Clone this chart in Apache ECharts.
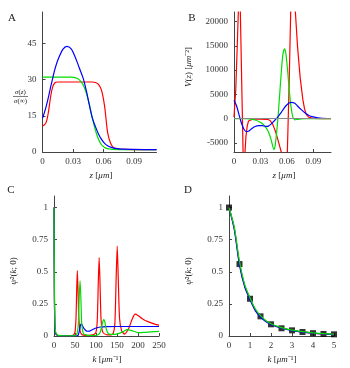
<!DOCTYPE html>
<html>
<head>
<meta charset="utf-8">
<script src="https://cdn.jsdelivr.net/npm/echarts@6/dist/echarts.min.js"></script>
<style>
  html, body { margin: 0; padding: 0; background: #fff; }
  #chart { width: 350px; height: 368px; }
</style>
</head>
<body>
<div id="chart"></div>
<script>
// panel A: sigma(z)/sigma(inf)
const zA = [0, 0.002, 0.004, 0.006, 0.008, 0.01, 0.012, 0.015, 0.02, 0.024, 0.028, 0.032, 0.036, 0.04, 0.043, 0.046, 0.049, 0.052, 0.055, 0.058, 0.061, 0.064, 0.067, 0.07, 0.075, 0.08, 0.09, 0.1, 0.112];
const aBlue = [14, 16.5, 19.5, 23, 27, 30.5, 34, 38, 42.5, 43.8, 42.8, 39.5, 35, 30.5, 25.5, 19.5, 14, 10.5, 7.5, 5.2, 3.6, 2.6, 2.0, 1.6, 1.3, 1.15, 1.05, 1.0, 1.0];
const aGreen = [31, 31, 31, 31, 31, 31, 31, 31, 31, 31, 31, 30.8, 30.0, 27.8, 24.5, 19.8, 14, 9, 5.3, 3.0, 1.9, 1.4, 1.2, 1.05, 1, 1, 1, 1, 1];
const aRed = [10.8, 11.2, 12.8, 17, 23, 27, 28.6, 29, 29, 29, 29, 29, 29, 29, 29, 29, 29, 28.8, 28, 25.5, 19, 8, 3.5, 1.8, 1.2, 1.05, 1, 1, 1];

// panel B: V(z)
const zBRed = [0, 0.002, 0.0035, 0.0049, 0.006, 0.0072, 0.0088, 0.0103, 0.0112, 0.0118, 0.0125, 0.0135, 0.015, 0.0165, 0.018, 0.022, 0.03, 0.038, 0.041, 0.044, 0.047, 0.05, 0.0536, 0.057, 0.0605, 0.0625, 0.0643, 0.067, 0.0696, 0.072, 0.075, 0.078, 0.08, 0.082, 0.085, 0.09, 0.1, 0.11];
const bRed = [300, 6000, 14000, 22000, 34000, 22000, 7000, -6900, -14000, -14000, -6900, -3800, -1500, -500, -200, -100, -100, -150, -400, -1200, -2600, -4500, -6900, -15000, -6900, 7000, 22000, 40000, 22000, 15000, 8500, 4000, 2000, 800, 250, 50, 0, 0];
const zB = [0, 0.003, 0.006, 0.008, 0.011, 0.014, 0.017, 0.02, 0.024, 0.028, 0.032, 0.036, 0.039, 0.042, 0.0452, 0.0465, 0.048, 0.0498, 0.052, 0.054, 0.0555, 0.0574, 0.059, 0.061, 0.063, 0.065, 0.0669, 0.069, 0.072, 0.076, 0.08, 0.085, 0.09, 0.095, 0.1, 0.11];
const bGreen = [0, 0, 0, 0, -10, -30, -60, -120, -300, -600, -1000, -1800, -2700, -4300, -6400, -5800, -3500, 0, 5500, 10500, 13300, 14400, 13200, 9500, 5200, 2000, 200, -250, -150, -50, 0, 0, 0, 0, 0, 0];
const bBlue = [3800, 2600, 600, -700, -2100, -2700, -2550, -2100, -1650, -1450, -1450, -1600, -1550, -1150, -550, -300, 0, 350, 900, 1400, 1800, 2300, 2650, 3000, 3250, 3350, 3300, 3150, 2600, 1900, 1250, 650, 350, 160, 70, 20];

// panel C: psi^2(k;0), wide k range
const kCRed = [0, 1, 2, 3, 5, 10, 20, 30, 40, 46, 50, 52.5, 54, 55.5, 57, 59, 62, 66, 75, 85, 95, 100, 103, 105.5, 107.5, 109.5, 112, 116, 125, 135, 141, 145, 148, 150.5, 153, 156, 161, 168, 178, 186, 193, 200, 210, 225, 240, 250];
const cRed = [1, 0.3, 0.09, 0.04, 0.015, 0.004, 0.001, 0.001, 0.002, 0.006, 0.03, 0.15, 0.35, 0.51, 0.38, 0.15, 0.04, 0.012, 0.005, 0.006, 0.012, 0.03, 0.12, 0.42, 0.61, 0.42, 0.13, 0.03, 0.01, 0.008, 0.02, 0.1, 0.45, 0.70, 0.45, 0.14, 0.04, 0.015, 0.06, 0.13, 0.17, 0.16, 0.135, 0.11, 0.093, 0.085];
const kCGreen = [0, 1, 2, 3, 5, 10, 20, 40, 50, 55, 58, 60, 62, 64, 66, 70, 80, 95, 105, 110, 114, 117, 119, 121, 124, 128, 135, 145, 155, 165, 174, 185, 200, 215, 230, 250];
const cGreen = [1, 0.35, 0.12, 0.05, 0.02, 0.005, 0.001, 0.001, 0.003, 0.02, 0.1, 0.3, 0.43, 0.3, 0.1, 0.02, 0.005, 0.004, 0.01, 0.03, 0.08, 0.12, 0.127, 0.11, 0.06, 0.025, 0.012, 0.012, 0.02, 0.035, 0.05, 0.042, 0.026, 0.028, 0.032, 0.036];
const kCBlue = [0, 1, 2, 3, 5, 10, 20, 40, 55, 58, 61, 63, 65, 67, 70, 75, 80, 85, 92, 100, 110, 125, 150, 200, 250];
const cBlue = [1, 0.28, 0.08, 0.035, 0.012, 0.003, 0.001, 0.001, 0.002, 0.01, 0.05, 0.085, 0.095, 0.085, 0.065, 0.045, 0.037, 0.038, 0.05, 0.062, 0.07, 0.073, 0.074, 0.074, 0.074];

// panel D: psi^2(k;0), small k
const kD = [0, 0.25, 0.5, 0.75, 1, 1.25, 1.5, 1.75, 2, 2.5, 3, 3.5, 4, 4.5, 5];
const dRed = [1, 0.84, 0.565, 0.39, 0.29, 0.205, 0.153, 0.117, 0.092, 0.062, 0.044, 0.032, 0.023, 0.017, 0.013];
const dGreen = [1, 0.85, 0.58, 0.4, 0.298, 0.212, 0.158, 0.121, 0.095, 0.065, 0.046, 0.034, 0.025, 0.018, 0.014];
const dBlue = [1, 0.83, 0.55, 0.38, 0.282, 0.198, 0.148, 0.113, 0.089, 0.06, 0.042, 0.03, 0.022, 0.016, 0.012];
const kSq = [0, 0.5, 1, 1.5, 2, 2.5, 3, 3.5, 4, 4.5, 5];
const dSq = [1, 0.56, 0.29, 0.153, 0.091, 0.06, 0.044, 0.031, 0.022, 0.016, 0.013];

// tick labels
const ticksZ = [0, 0.03, 0.06, 0.09];
const ticksA = [0, 15, 30, 45];
const ticksB = [-5000, 0, 5000, 10000, 15000, 20000];
const ticksKC = [0, 50, 100, 150, 200, 250];
const ticksKD = [0, 1, 2, 3, 4, 5];
const ticksPsi = [0, 0.25, 0.5, 0.75, 1];

const FONT = 'Liberation Serif';
const RED = '#ff0000', GREEN = '#00dd00', BLUE = '#0000ff';

const pairs = (xs, ys) => xs.map((x, i) => [x, ys[i]]);

const axis = (gridIndex, min, max, ticks, isX) => ({
  type: 'value',
  gridIndex: gridIndex,
  min: min,
  max: max,
  splitLine: { show: false },
  axisLine: { show: true, onZero: false, lineStyle: { color: '#444', width: 1 } },
  axisTick: { show: true, inside: true, length: 3, customValues: ticks, lineStyle: { color: '#444' } },
  axisLabel: {
    customValues: ticks,
    formatter: (v) => String(v),
    fontFamily: FONT, fontSize: 9, color: '#333',
    margin: isX ? 5 : 6
  }
});

const line = (name, xi, yi, data, color, smooth) => ({
  name: name,
  type: 'line',
  xAxisIndex: xi,
  yAxisIndex: yi,
  data: data,
  showSymbol: false,
  smooth: smooth,
  clip: true,
  lineStyle: { color: color, width: 1.2 },
  itemStyle: { color: color },
  silent: true
});

const txt = (x, y, text, size, rotate) => ({
  type: 'text',
  x: x, y: y,
  rotation: rotate ? Math.PI / 2 : 0,
  style: {
    text: text,
    fontFamily: FONT, fontSize: size, fill: '#222',
    align: 'center', verticalAlign: 'middle',
    rich: { i: { fontStyle: 'italic', fontFamily: FONT, fontSize: size, fill: '#222' } }
  }
});

const chart = echarts.init(document.getElementById('chart'), null, { renderer: 'canvas' });

const option = {
  animation: false,
  backgroundColor: '#fff',
  grid: [
    { left: 42.5, top: 12, width: 114, height: 140, outerBoundsMode: 'none' },
    { left: 234, top: 12, width: 97, height: 140, outerBoundsMode: 'none' },
    { left: 54, top: 196, width: 105, height: 140, outerBoundsMode: 'none' },
    { left: 229, top: 196, width: 105, height: 140, outerBoundsMode: 'none' }
  ],
  xAxis: [
    axis(0, 0, 0.112, ticksZ, true),
    axis(1, 0, 0.11, ticksZ, true),
    axis(2, 0, 250, ticksKC, true),
    axis(3, 0, 5, ticksKD, true)
  ],
  yAxis: [
    axis(0, 0, 58, ticksA, false),
    axis(1, -6900, 22000, ticksB, false),
    axis(2, 0, 1.09, ticksPsi, false),
    axis(3, 0, 1.09, ticksPsi, false)
  ],
  series: [
    line('A red', 0, 0, pairs(zA, aRed), RED, 0.3),
    line('A green', 0, 0, pairs(zA, aGreen), GREEN, 0.3),
    line('A blue', 0, 0, pairs(zA, aBlue), BLUE, 0.3),

    Object.assign(line('B red', 1, 1, pairs(zBRed, bRed), RED, false), {
      markLine: {
        silent: true, symbol: 'none', label: { show: false },
        lineStyle: { color: '#888', width: 1, type: 'solid' },
        data: [{ yAxis: 0 }]
      }
    }),
    line('B green', 1, 1, pairs(zB, bGreen), GREEN, 0.2),
    line('B blue', 1, 1, pairs(zB, bBlue), BLUE, 0.2),

    line('C red', 2, 2, pairs(kCRed, cRed), RED, 0.2),
    line('C blue', 2, 2, pairs(kCBlue, cBlue), BLUE, 0.2),
    line('C green', 2, 2, pairs(kCGreen, cGreen), GREEN, 0.2),

    line('D red', 3, 3, pairs(kD, dRed), RED, 0.3),
    line('D blue', 3, 3, pairs(kD, dBlue), BLUE, 0.3),
    line('D green', 3, 3, pairs(kD, dGreen), GREEN, 0.3),
    {
      name: 'D points',
      type: 'scatter',
      xAxisIndex: 3,
      yAxisIndex: 3,
      data: pairs(kSq, dSq),
      symbol: 'rect',
      symbolSize: 6,
      itemStyle: { color: '#000' },
      silent: true
    }
  ],
  graphic: [
    txt(12, 18, 'A', 11),
    txt(192, 18, 'B', 11),
    txt(11, 190, 'C', 11),
    txt(188, 190, 'D', 11),

    txt(101, 176, '{i|z} [{i|μm}]', 9),
    txt(284, 176, '{i|z} [{i|μm}]', 9),
    txt(107, 360, '{i|k} [{i|μm}⁻¹]', 9),
    txt(282, 360, '{i|k} [{i|μm}⁻¹]', 9),

    // fraction label of panel A
    txt(20.5, 92, '{i|σ}({i|z})', 7),
    { type: 'line', shape: { x1: 13, y1: 96.5, x2: 28, y2: 96.5 }, style: { stroke: '#222', lineWidth: 0.6 } },
    txt(20.5, 101, '{i|σ}(∞)', 7),

    txt(189, 67, '{i|V}({i|z}) [{i|μm}⁻²]', 9, true),
    txt(14, 271, '{i|ψ}²({i|k}; 0)', 9, true),
    txt(189, 271, '{i|ψ}²({i|k}; 0)', 9, true)
  ]
};

chart.setOption(option);
</script>
</body>
</html>
